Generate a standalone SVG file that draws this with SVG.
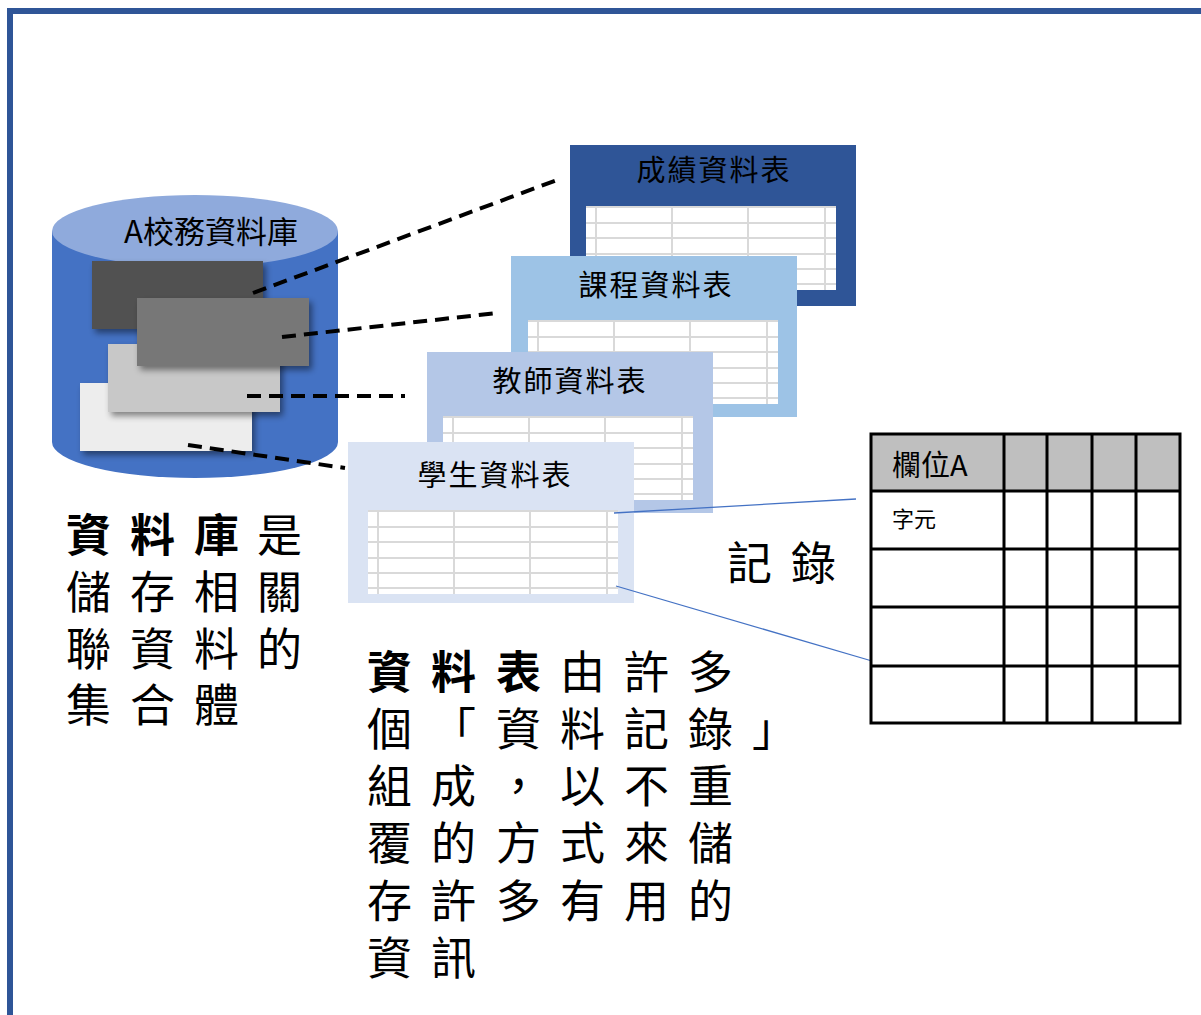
<svg xmlns="http://www.w3.org/2000/svg" xmlns:xlink="http://www.w3.org/1999/xlink" width="1201" height="1015" viewBox="0 0 1201 1015">
<style>
  .cjk { font-family: "Noto Sans CJK TC", "Noto Sans CJK SC", sans-serif; fill: #000; }
  .title { font-size: 29px; text-anchor: middle; letter-spacing: 2px; }
  .body { font-size: 45px; }
  .bold { font-weight: bold; }
  .dash { stroke: #000; stroke-width: 4; stroke-dasharray: 14 8; fill: none; }
  .blue { stroke: #4472C4; stroke-width: 1.3; fill: none; }
  .gl { stroke: #D9D9D9; stroke-width: 2; }
  .tb { stroke: #000; stroke-width: 3; fill: none; }
</style>
<defs>
  <filter id="sh" x="-10%" y="-10%" width="130%" height="140%">
    <feDropShadow dx="3" dy="4" stdDeviation="3" flood-color="#000" flood-opacity="0.45"/>
  </filter>
  <g id="grid">
    <rect x="0" y="0" width="250" height="84" fill="#FFFFFF"/>
    <line class="gl" x1="10" y1="0" x2="10" y2="84"/>
    <line class="gl" x1="86" y1="0" x2="86" y2="84"/>
    <line class="gl" x1="162" y1="0" x2="162" y2="84"/>
    <line class="gl" x1="239" y1="0" x2="239" y2="84"/>
    <line class="gl" x1="0" y1="1" x2="250" y2="1"/>
    <line class="gl" x1="0" y1="17" x2="250" y2="17"/>
    <line class="gl" x1="0" y1="32" x2="250" y2="32"/>
    <line class="gl" x1="0" y1="48" x2="250" y2="48"/>
    <line class="gl" x1="0" y1="63" x2="250" y2="63"/>
    <line class="gl" x1="0" y1="78" x2="250" y2="78"/>
  </g>
</defs>

<rect x="0" y="0" width="1201" height="1015" fill="#FFFFFF"/>

<g id="frame">
  <path d="M10,1015 V11 H1201" fill="none" stroke="#2F5597" stroke-width="6"/>
</g>

<g id="database">
  <path d="M52,231 V442 A143,36 0 0 0 338,442 V231 Z" fill="#4472C4"/>
  <ellipse cx="195" cy="231" rx="143" ry="36" fill="#8FAADC"/>
  <text class="cjk" x="211" y="243" font-size="31" text-anchor="middle">A校務資料庫</text>
  <rect x="92" y="261" width="171" height="68" fill="#515151" filter="url(#sh)"/>
  <rect x="80" y="383" width="172" height="68" fill="#EDEDED" filter="url(#sh)"/>
  <rect x="108" y="344" width="172" height="68" fill="#C8C8C8" filter="url(#sh)"/>
  <rect x="137" y="298" width="172" height="68" fill="#777777" filter="url(#sh)"/>
</g>

<g id="connectors">
  <line class="dash" x1="253" y1="293" x2="557" y2="180"/>
  <line class="dash" x1="282" y1="337" x2="497" y2="313"/>
  <line class="dash" x1="247" y1="396" x2="405" y2="396"/>
  <line class="dash" x1="188" y1="445" x2="345" y2="468"/>
</g>

<g id="table-grades">
  <rect x="570" y="145" width="286" height="161" fill="#2F5597"/>
  <use xlink:href="#grid" x="586" y="206"/>
  <text class="cjk title" x="714" y="181">成績資料表</text>
</g>

<g id="table-courses">
  <rect x="511" y="256" width="286" height="161" fill="#9DC3E6"/>
  <use xlink:href="#grid" x="528" y="320"/>
  <text class="cjk title" x="656" y="296">課程資料表</text>
</g>

<g id="table-teachers">
  <rect x="427" y="352" width="286" height="161" fill="#B4C7E7"/>
  <use xlink:href="#grid" x="443" y="416"/>
  <text class="cjk title" x="570" y="392">教師資料表</text>
</g>

<g id="table-students">
  <rect x="348" y="442" width="286" height="161" fill="#DAE3F3"/>
  <use xlink:href="#grid" x="368" y="510"/>
  <text class="cjk title" x="495" y="486">學生資料表</text>
</g>

<g id="zoom-lines">
  <line class="blue" x1="614" y1="513" x2="856" y2="499"/>
  <line class="blue" x1="616" y1="586" x2="872" y2="661"/>
</g>

<g id="record-table">
  <rect x="871" y="434" width="309" height="57" fill="#BFBFBF"/>
  <rect x="871" y="491" width="309" height="232" fill="#FFFFFF"/>
  <rect class="tb" x="871" y="434" width="309" height="289"/>
  <line class="tb" x1="1004" y1="434" x2="1004" y2="723"/>
  <line class="tb" x1="1047" y1="434" x2="1047" y2="723"/>
  <line class="tb" x1="1092" y1="434" x2="1092" y2="723"/>
  <line class="tb" x1="1136" y1="434" x2="1136" y2="723"/>
  <line class="tb" x1="871" y1="491" x2="1180" y2="491"/>
  <line class="tb" x1="871" y1="549" x2="1180" y2="549"/>
  <line class="tb" x1="871" y1="607" x2="1180" y2="607"/>
  <line class="tb" x1="871" y1="666" x2="1180" y2="666"/>
  <text class="cjk" x="892" y="476" font-size="29">欄位A</text>
  <text class="cjk" x="892" y="527" font-size="22">字元</text>
</g>

<g id="record-label">
  <text class="cjk" font-size="45" x="727 791" y="580">記錄</text>
</g>

<g id="db-description">
  <text class="cjk body" y="552"><tspan class="bold" x="66 130 194">資料庫</tspan><tspan x="257">是</tspan></text>
  <text class="cjk body" x="66 130 194 257" y="609">儲存相關</text>
  <text class="cjk body" x="66 130 194 257" y="666">聯資料的</text>
  <text class="cjk body" x="66 130 194" y="722">集合體</text>
</g>

<g id="table-description">
  <text class="cjk body" y="689"><tspan class="bold" x="367 431 496">資料表</tspan><tspan x="560 624 688">由許多</tspan></text>
  <text class="cjk body" x="367 431 496 560 624 688 752" y="746">個「資料記錄」</text>
  <text class="cjk body" x="367 431 496 560 624 688" y="803">組成，以不重</text>
  <text class="cjk body" x="367 431 496 560 624 688" y="860">覆的方式來儲</text>
  <text class="cjk body" x="367 431 496 560 624 688" y="918">存許多有用的</text>
  <text class="cjk body" x="367 431" y="975">資訊</text>
</g>
</svg>
